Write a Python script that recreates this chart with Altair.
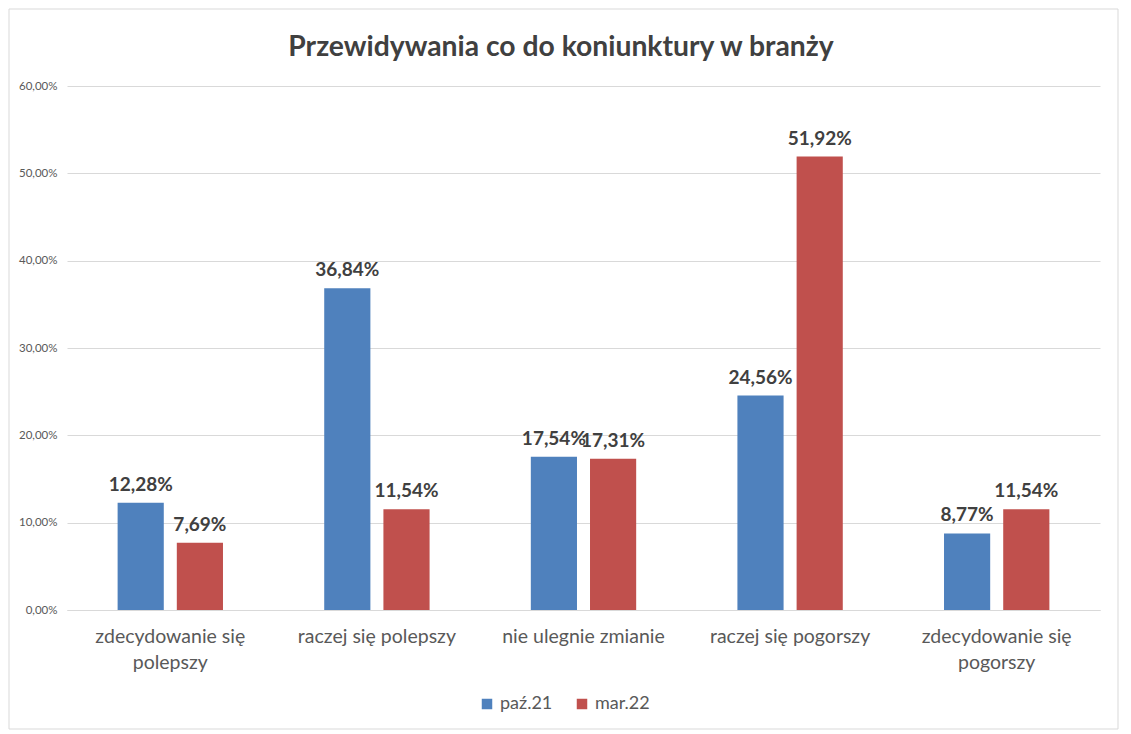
import altair as alt
import pandas as pd

title_text = "Przewidywania co do koniunktury w branży"
categories = ["zdecydowanie się polepszy", "raczej się polepszy", "nie ulegnie zmianie",
              "raczej się pogorszy", "zdecydowanie się pogorszy"]
series_names = ["paź.21", "mar.22"]
values_paz21 = [0.1228, 0.3684, 0.1754, 0.2456, 0.0877]
values_mar22 = [0.0769, 0.1154, 0.1731, 0.5192, 0.1154]
colors = ["#4F81BD", "#C0504D"]
y_ticks = [0, 0.1, 0.2, 0.3, 0.4, 0.5, 0.6]

rows = []
for c, a, b in zip(categories, values_paz21, values_mar22):
    rows.append({"kategoria": c, "seria": series_names[0], "wartosc": a})
    rows.append({"kategoria": c, "seria": series_names[1], "wartosc": b})
df = pd.DataFrame(rows)

FONT = "Lato"
W, H = 1033, 524

label_expr = ("datum.label == 'zdecydowanie się polepszy' ? ['zdecydowanie się', 'polepszy'] : "
              "datum.label == 'zdecydowanie się pogorszy' ? ['zdecydowanie się', 'pogorszy'] : datum.label")

x_enc = alt.X("kategoria:N", sort=categories,
              scale=alt.Scale(paddingInner=0.49, paddingOuter=0.245),
              axis=alt.Axis(title=None, labelAngle=0, labelFontSize=19.5, labelColor="#595959",
                            labelFont=FONT, labelPadding=17, labelLineHeight=26, ticks=False,
                            domainColor="#d9d9d9", labelExpr=label_expr, labelLimit=300))
xoff = alt.XOffset("seria:N", sort=series_names, scale=alt.Scale(paddingInner=0.22))
y_enc = alt.Y("wartosc:Q", scale=alt.Scale(domain=[0, 0.6]),
              axis=alt.Axis(title=None, values=y_ticks, format=".2%", labelFontSize=11.5,
                            labelColor="#595959", labelFont=FONT, labelPadding=10,
                            ticks=False, domain=False, gridColor="#d9d9d9"))
color_enc = alt.Color("seria:N", sort=series_names,
                      scale=alt.Scale(domain=series_names, range=colors),
                      legend=alt.Legend(title=None, orient="none", legendX=411, legendY=609,
                                        direction="horizontal", symbolType="square",
                                        symbolSize=110, labelFontSize=18, labelColor="#595959",
                                        labelFont=FONT, columnPadding=20, symbolStrokeWidth=0))

base = alt.Chart(df)
bars = base.mark_bar().encode(x=x_enc, xOffset=xoff, y=y_enc, color=color_enc)
labels = base.mark_text(dy=-18, fontSize=19, fontWeight="bold", color="#404040", font=FONT).encode(
    x=alt.X("kategoria:N", sort=categories), xOffset=alt.XOffset("seria:N", sort=series_names),
    y="wartosc:Q", text=alt.Text("wartosc:Q", format=".2%"))

one = pd.DataFrame({"t": [title_text]})
frame = alt.Chart(one).mark_rect(fill=None, stroke="#d9d9d9", strokeWidth=1).encode(
    x=alt.value(-58), x2=alt.value(1051), y=alt.value(-77), y2=alt.value(643))
title = alt.Chart(one).mark_text(fontSize=28.3, font=FONT, fontWeight="bold", color="#404040",
                                 baseline="middle", align="center").encode(
    x=alt.value(494), y=alt.value(-38), text="t:N")

chart = alt.layer(frame, bars, labels, title).properties(
    width=W, height=H,
    autosize=alt.AutoSizeParams(type="none"),
    padding={"left": 59, "top": 78, "right": 20, "bottom": 122},
).configure(
    locale={"number": {"decimal": ",", "thousands": "\u00a0", "grouping": [3], "currency": ["", " zł"]}}
).configure_view(stroke=None)

chart.save("out.html", embed_options={"renderer": "svg", "actions": False})
